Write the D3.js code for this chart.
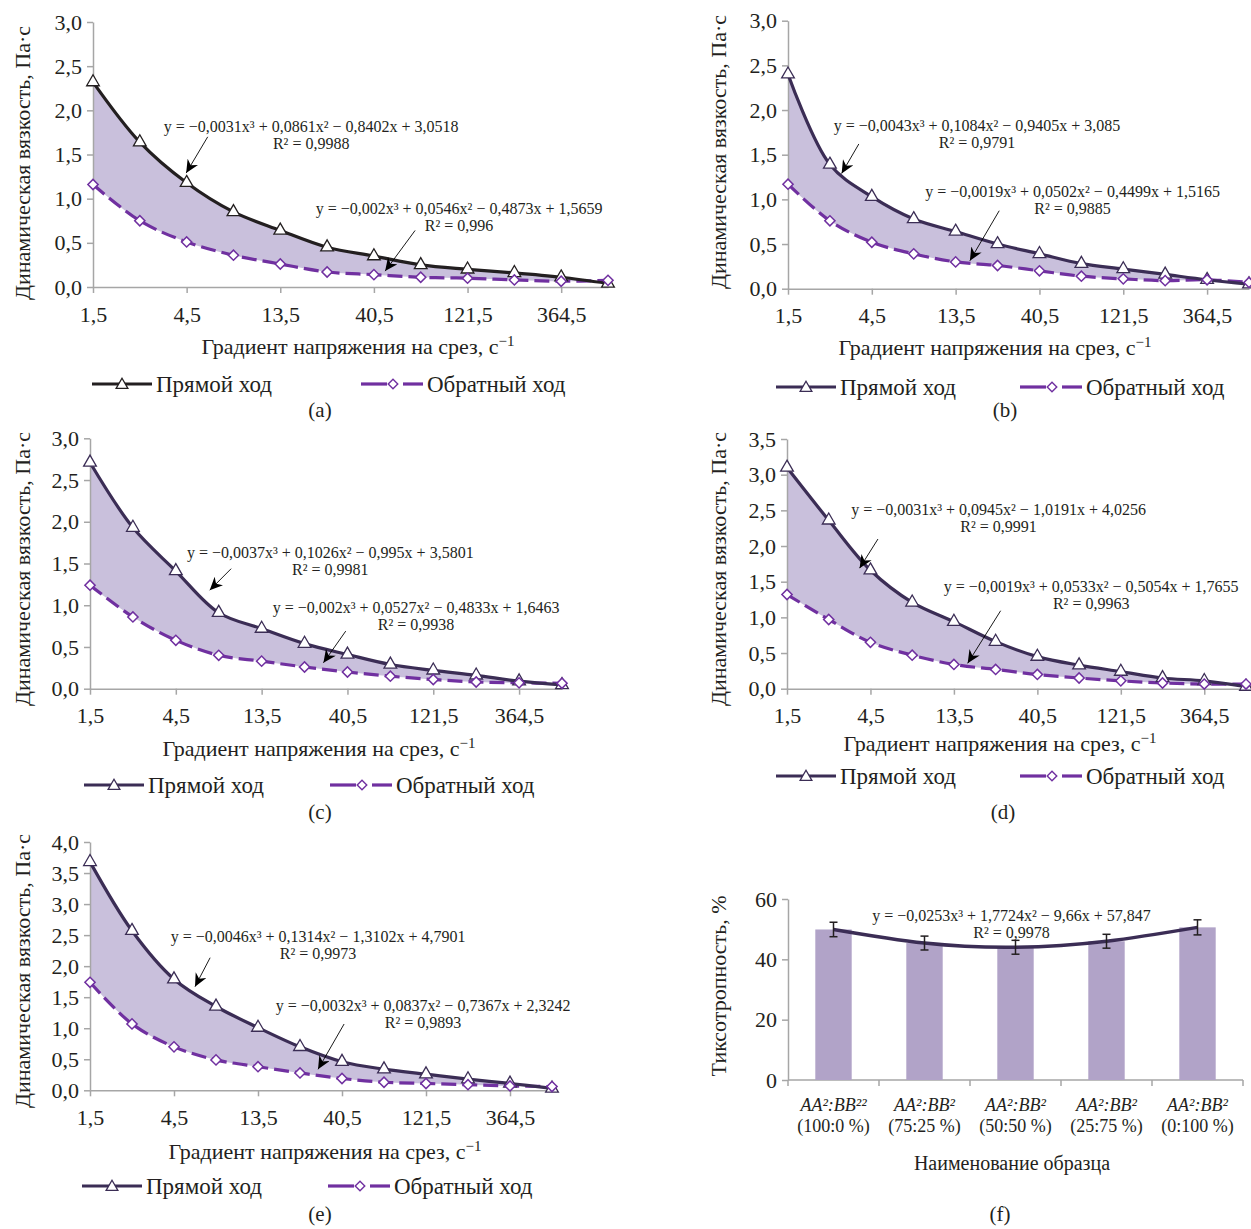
<!DOCTYPE html>
<html><head><meta charset="utf-8">
<script src="https://cdn.jsdelivr.net/npm/d3@7"></script>
<style>
body{margin:0;background:#fff}
svg{display:block}
text{font-family:"Liberation Serif","Times New Roman",serif;fill:#231f20}
</style>
</head><body>
<svg id="chart" width="1251" height="1229"></svg>
<script>
// ---------- DATA ----------
const shearRates = ["1,5","3","4,5","9","13,5","27","40,5","81","121,5","243","364,5","729"];
const shearTickLabels = ["1,5","4,5","13,5","40,5","121,5","364,5"];

const forwardA  = [2.32,1.64,1.18,0.85,0.64,0.45,0.35,0.25,0.20,0.16,0.11,0.04];
const backwardA = [1.16,0.75,0.51,0.36,0.26,0.17,0.14,0.11,0.10,0.08,0.065,0.075];
const forwardB  = [2.40,1.39,1.03,0.78,0.64,0.50,0.39,0.28,0.22,0.16,0.10,0.05];
const backwardB = [1.17,0.76,0.52,0.39,0.30,0.26,0.20,0.14,0.11,0.09,0.10,0.07];
const forwardC  = [2.71,1.93,1.41,0.91,0.72,0.54,0.41,0.29,0.22,0.16,0.09,0.045];
const backwardC = [1.24,0.86,0.58,0.40,0.33,0.26,0.20,0.15,0.11,0.08,0.07,0.065];
const forwardD  = [3.10,2.36,1.66,1.21,0.94,0.66,0.45,0.33,0.24,0.15,0.11,0.03];
const backwardD = [1.32,0.97,0.65,0.47,0.34,0.27,0.20,0.15,0.11,0.08,0.065,0.065];
const forwardE  = [3.68,2.57,1.79,1.35,1.01,0.70,0.46,0.34,0.26,0.18,0.11,0.03];
const backwardE = [1.74,1.07,0.70,0.49,0.38,0.28,0.19,0.13,0.11,0.09,0.07,0.06];

const equationsA = ["y = −0,0031x³ + 0,0861x² − 0,8402x + 3,0518","R² = 0,9988","y = −0,002x³ + 0,0546x² − 0,4873x + 1,5659","R² = 0,996"];
const equationsB = ["y = −0,0043x³ + 0,1084x² − 0,9405x + 3,085","R² = 0,9791","y = −0,0019x³ + 0,0502x² − 0,4499x + 1,5165","R² = 0,9885"];
const equationsC = ["y = −0,0037x³ + 0,1026x² − 0,995x + 3,5801","R² = 0,9981","y = −0,002x³ + 0,0527x² − 0,4833x + 1,6463","R² = 0,9938"];
const equationsD = ["y = −0,0031x³ + 0,0945x² − 1,0191x + 4,0256","R² = 0,9991","y = −0,0019x³ + 0,0533x² − 0,5054x + 1,7655","R² = 0,9963"];
const equationsE = ["y = −0,0046x³ + 0,1314x² − 1,3102x + 4,7901","R² = 0,9973","y = −0,0032x³ + 0,0837x² − 0,7367x + 2,3242","R² = 0,9893"];

const sampleNames  = ["AA²:BB²²","AA²:BB²","AA²:BB²","AA²:BB²","AA²:BB²"];
const sampleRatios = ["(100:0 %)","(75:25 %)","(50:50 %)","(25:75 %)","(0:100 %)"];
const thixotropy    = [49.9,45.4,44.0,46.0,50.6];
const thixotropyErr = [2.4,2.3,2.3,2.3,2.5];
const thixoEquation = ["y = −0,0253x³ + 1,7724x² − 9,66x + 57,847","R² = 0,9978"];

const legendNames = ["Прямой ход","Обратный ход"];
const yTitle = "Динамическая вязкость, Па·с";
const xTitle = "Градиент напряжения на срез, с";

// ---------- STYLE ----------
const FONT = "'Liberation Serif','Times New Roman',serif";
const AXIS = "#a6a6a6";
const DARK = "#3b2d55";
const BACK = "#7030a0";
const FILL = "#c9c0dc";
const fmt = d3.formatLocale({decimal:",",thousands:"\u00a0",grouping:[3],currency:["",""]}).format(".1f");

const svg = d3.select("#chart");
svg.append("rect").attr("width",1251).attr("height",1229).attr("fill","#fff");
const defs = svg.append("defs");
defs.append("marker").attr("id","arr").attr("markerUnits","userSpaceOnUse")
  .attr("markerWidth",16).attr("markerHeight",16).attr("refX",13).attr("refY",6)
  .attr("orient","auto")
  .append("path").attr("d","M0,0 L13,6 L0,12 L4,6 Z").attr("fill","#000");

const tri = d3.symbol().type(d3.symbolTriangle).size(70);
const dia = d3.symbol().type(d3.symbolSquare).size(52);

// layout for the five line panels (pixel frames, annotation anchors in data units)
const panels = [
  {f:forwardA,b:backwardA,eq:equationsA,fc:"#231f20",yMax:3.0,x0:93,x1:608,yTop:22,yBot:287,
   e1:[4.66,1.82],a1:[[2.45,1.70],[1.99,1.29]],e2:[7.82,0.89],a2:[[6.88,0.64],[6.24,0.18]],
   yt:[22,163],xt:[358,346],lg:[384,92,361],cap:["(a)",320,410]},
  {f:forwardB,b:backwardB,eq:equationsB,fc:DARK,yMax:3.0,x0:788,x1:1249,yTop:20.7,yBot:288.7,
   e1:[4.51,1.83],a1:[[1.69,1.62],[1.28,1.29]],e2:[6.79,1.086],a2:[[5.04,0.873],[4.34,0.313]],
   yt:[718,152],xt:[995,347],lg:[387,776,1020],cap:["(b)",1005,410]},
  {f:forwardC,b:backwardC,eq:equationsC,fc:DARK,yMax:3.0,x0:90,x1:562,yTop:438.3,yBot:688.7,
   e1:[5.6,1.63],a1:[[3.29,1.438],[2.79,1.18]],e2:[7.6,0.98],a2:[[5.96,0.69],[5.44,0.31]],
   yt:[22,569],xt:[319,748],lg:[785,84,330],cap:["(c)",320,812]},
  {f:forwardD,b:backwardD,eq:equationsD,fc:DARK,yMax:3.5,x0:787,x1:1246,yTop:439,yBot:688.7,
   e1:[5.07,2.515],a1:[[2.18,2.098],[1.74,1.69]],e2:[7.29,1.44],a2:[[5.12,1.093],[4.33,0.356]],
   yt:[718,569],xt:[1000,743],lg:[776,776,1020],cap:["(d)",1003,812]},
  {f:forwardE,b:backwardE,eq:equationsE,fc:DARK,yMax:4.0,x0:90,x1:552,yTop:842,yBot:1090.3,
   e1:[5.43,2.474],a1:[[2.86,2.136],[2.50,1.67]],e2:[7.93,1.374],a2:[[6.05,1.068],[5.43,0.338]],
   yt:[22,971],xt:[325,1151],lg:[1186,82,328],cap:["(e)",320,1214]}
];

function styleAxis(g){
  g.attr("font-family",FONT).attr("font-size",22);
  g.select(".domain").attr("stroke",AXIS).attr("stroke-width",1.5);
  g.selectAll(".tick line").attr("stroke",AXIS).attr("stroke-width",1.5);
  g.selectAll(".tick text").attr("fill","#231f20");
}

function drawLegend(g, ly, fx, bx, fc){
  g.append("line").attr("x1",fx).attr("x2",fx+60).attr("y1",ly).attr("y2",ly)
    .attr("stroke",fc).attr("stroke-width",3.2);
  g.append("path").attr("d",tri.size(60)()).attr("transform",`translate(${fx+30},${ly+1})`)
    .attr("fill","#fff").attr("stroke",fc).attr("stroke-width",1.3);
  g.append("text").attr("x",fx+64).attr("y",ly).attr("dy","0.35em").attr("font-size",23).text(legendNames[0]);
  g.append("line").attr("x1",bx).attr("x2",bx+26).attr("y1",ly).attr("y2",ly)
    .attr("stroke",BACK).attr("stroke-width",3.2);
  g.append("line").attr("x1",bx+42).attr("x2",bx+62).attr("y1",ly).attr("y2",ly)
    .attr("stroke",BACK).attr("stroke-width",3.2);
  g.append("path").attr("d",dia.size(46)()).attr("transform",`translate(${bx+32},${ly}) rotate(45)`)
    .attr("fill","#fff").attr("stroke",BACK).attr("stroke-width",1.4);
  g.append("text").attr("x",bx+66).attr("y",ly).attr("dy","0.35em").attr("font-size",23).text(legendNames[1]);
}

panels.forEach(p => {
  const g = svg.append("g");
  const n = shearRates.length;
  const x = d3.scalePoint().domain(shearRates).range([p.x0,p.x1]);
  const xi = d3.scaleLinear().domain([0,n-1]).range([p.x0,p.x1]);
  const y = d3.scaleLinear().domain([0,p.yMax]).range([p.yBot,p.yTop]);
  const idx = d3.range(n);
  const curve = d3.curveCatmullRom.alpha(0.5);

  g.append("path").datum(idx)
    .attr("d", d3.area().x(i=>x(shearRates[i])).y0(i=>y(p.b[i])).y1(i=>y(p.f[i])).curve(curve))
    .attr("fill",FILL);

  g.append("g").attr("transform",`translate(${p.x0},0)`)
    .call(d3.axisLeft(y).tickValues(d3.range(0,p.yMax+0.001,0.5)).tickSize(6).tickSizeOuter(0).tickPadding(5).tickFormat(fmt))
    .call(styleAxis);
  g.append("g").attr("transform",`translate(0,${p.yBot})`)
    .call(d3.axisBottom(x).tickValues(shearTickLabels).tickSize(6).tickSizeOuter(0).tickPadding(13))
    .call(styleAxis);

  g.append("path").datum(idx)
    .attr("d", d3.line().x(i=>x(shearRates[i])).y(i=>y(p.b[i])).curve(curve))
    .attr("fill","none").attr("stroke",BACK).attr("stroke-width",3.2).attr("stroke-dasharray","15,6");
  g.append("path").datum(idx)
    .attr("d", d3.line().x(i=>x(shearRates[i])).y(i=>y(p.f[i])).curve(curve))
    .attr("fill","none").attr("stroke",p.fc).attr("stroke-width",3.2);

  g.selectAll(".ft").data(idx).join("path")
    .attr("d",tri.size(70)()).attr("transform",i=>`translate(${x(shearRates[i])},${y(p.f[i])})`)
    .attr("fill","#fff").attr("stroke",p.fc).attr("stroke-width",1.3);
  g.selectAll(".bd").data(idx).join("path")
    .attr("d",dia.size(52)()).attr("transform",i=>`translate(${x(shearRates[i])},${y(p.b[i])}) rotate(45)`)
    .attr("fill","#fff").attr("stroke",BACK).attr("stroke-width",1.5);

  // equations and arrows
  [[p.e1,p.a1,0],[p.e2,p.a2,2]].forEach(([e,a,k]) => {
    const cx = xi(e[0]), cy = y(e[1]);
    g.append("text").attr("x",cx).attr("y",cy).attr("dy","0.35em").attr("text-anchor","middle")
      .attr("font-size",16).text(p.eq[k]);
    g.append("text").attr("x",cx).attr("y",cy+17).attr("dy","0.35em").attr("text-anchor","middle")
      .attr("font-size",16).text(p.eq[k+1]);
    g.append("line").attr("x1",xi(a[0][0])).attr("y1",y(a[0][1])).attr("x2",xi(a[1][0])).attr("y2",y(a[1][1]))
      .attr("stroke","#000").attr("stroke-width",0.9).attr("marker-end","url(#arr)");
  });

  // axis titles
  g.append("text").attr("transform",`translate(${p.yt[0]},${p.yt[1]}) rotate(-90)`)
    .attr("text-anchor","middle").attr("dy","0.35em").attr("font-size",22).text(yTitle);
  const xt = g.append("text").attr("x",p.xt[0]).attr("y",p.xt[1]).attr("dy","0.35em")
    .attr("text-anchor","middle").attr("font-size",22);
  xt.append("tspan").text(xTitle);
  xt.append("tspan").attr("dy",-8).attr("font-size",15).text("−1");

  drawLegend(g, p.lg[0], p.lg[1], p.lg[2], p.fc);
  g.append("text").attr("x",p.cap[1]).attr("y",p.cap[2]).attr("dy","0.35em").attr("text-anchor","middle")
    .attr("font-size",21).text(p.cap[0]);
});

// ---------- panel (f) ----------
(function(){
  const g = svg.append("g");
  const x = d3.scaleBand().domain(d3.range(sampleNames.length)).range([788,1243]).paddingInner(0.6).paddingOuter(0.3);
  const y = d3.scaleLinear().domain([0,60]).range([1080,899]);
  const cx = i => x(i) + x.bandwidth()/2;

  g.append("g").attr("transform","translate(788,0)")
    .call(d3.axisLeft(y).tickValues([0,20,40,60]).tickSize(6).tickSizeOuter(0).tickPadding(5))
    .call(styleAxis);
  const bounds = d3.range(sampleNames.length+1).map(i => 788 + i*x.step());
  g.append("line").attr("x1",788).attr("x2",1243).attr("y1",y(0)).attr("y2",y(0)).attr("stroke",AXIS).attr("stroke-width",1.5);
  g.selectAll(".bt").data(bounds).join("line").attr("x1",d=>d).attr("x2",d=>d).attr("y1",y(0)).attr("y2",y(0)+6)
    .attr("stroke",AXIS).attr("stroke-width",1.5);

  g.selectAll(".bar").data(thixotropy).join("rect")
    .attr("x",(d,i)=>x(i)).attr("width",x.bandwidth()).attr("y",d=>y(d)).attr("height",d=>y(0)-y(d))
    .attr("fill","#b1a3c8");

  g.append("path").datum(thixotropy)
    .attr("d",d3.line().x((d,i)=>cx(i)).y(d=>y(d)).curve(d3.curveNatural))
    .attr("fill","none").attr("stroke",DARK).attr("stroke-width",3.5);

  thixotropy.forEach((v,i) => {
    const e = thixotropyErr[i], c = cx(i);
    g.append("line").attr("x1",c).attr("x2",c).attr("y1",y(v-e)).attr("y2",y(v+e)).attr("stroke","#231f20").attr("stroke-width",1.5);
    [v-e,v+e].forEach(t => g.append("line").attr("x1",c-4).attr("x2",c+4).attr("y1",y(t)).attr("y2",y(t))
      .attr("stroke","#231f20").attr("stroke-width",1.5));
    g.append("text").attr("x",c).attr("y",y(0)+25).attr("dy","0.35em").attr("text-anchor","middle")
      .attr("font-size",18).attr("font-style","italic").text(sampleNames[i]);
    g.append("text").attr("x",c).attr("y",y(0)+46).attr("dy","0.35em").attr("text-anchor","middle")
      .attr("font-size",18).text(sampleRatios[i]);
  });

  g.append("text").attr("x",cx(2)-4).attr("y",y(54.4)).attr("dy","0.35em").attr("text-anchor","middle")
    .attr("font-size",16).text(thixoEquation[0]);
  g.append("text").attr("x",cx(2)-4).attr("y",y(54.4)+17).attr("dy","0.35em").attr("text-anchor","middle")
    .attr("font-size",16).text(thixoEquation[1]);

  g.append("text").attr("transform","translate(718,986) rotate(-90)").attr("text-anchor","middle")
    .attr("dy","0.35em").attr("font-size",22).text("Тиксотропность, %");
  g.append("text").attr("x",1012).attr("y",1163).attr("dy","0.35em").attr("text-anchor","middle")
    .attr("font-size",20).text("Наименование образца");
  g.append("text").attr("x",1000).attr("y",1214).attr("dy","0.35em").attr("text-anchor","middle")
    .attr("font-size",21).text("(f)");
})();
</script>
</body></html>
